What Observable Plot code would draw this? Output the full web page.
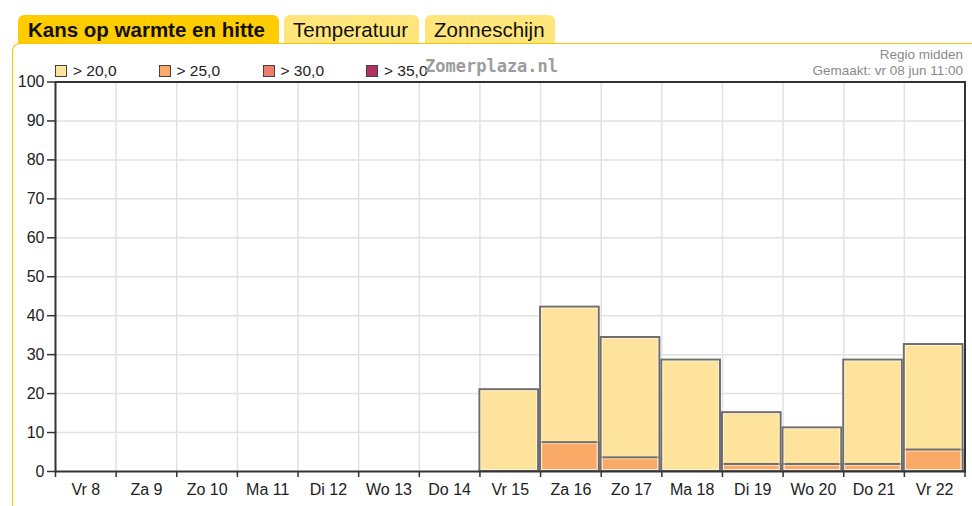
<!DOCTYPE html>
<html>
<head>
<meta charset="utf-8">
<script src="https://cdn.jsdelivr.net/npm/d3@7"></script>
<script src="https://cdn.jsdelivr.net/npm/@observablehq/plot@0.6"></script>
<style>
  html, body { margin:0; padding:0; background:#fff; }
  body { font-family: "Liberation Sans", Arial, sans-serif; }
  #wrap { position:relative; width:972px; height:506px; overflow:hidden; }
  .tab { position:absolute; top:15px; height:28px; border-radius:6px 6px 0 0; font-size:20.5px; line-height:29px; color:#111; box-sizing:border-box; padding-left:9px; }
  #panel { position:absolute; left:12px; top:43px; width:1000px; height:520px; border-left:1.5px solid #f6c400; border-top:1.5px solid #f6c400; border-top-left-radius:8px; box-sizing:border-box; pointer-events:none; }
  #chart { position:absolute; left:0; top:0; }
  .leg { position:absolute; top:63px; font-size:15.5px; color:#222; white-space:nowrap; line-height:16px; }
  .sw { display:inline-block; width:10px; height:10px; border:1px solid #444; vertical-align:-1px; margin-right:6px; }
  #wm { position:absolute; left:425px; top:56px; font-family:"DejaVu Sans Mono", monospace; font-weight:bold; font-size:17px; color:#9c9c9c; letter-spacing:0px; }
  #reg { position:absolute; right:9px; top:47px; text-align:right; font-size:13.5px; color:#8a8a8a; line-height:16px; }
</style>
</head>
<body>
<div id="wrap">
  <div id="chart"></div>
  <div id="panel"></div>
  <div class="tab" id="t1" style="left:18px;width:261px;background:#ffcc00;font-weight:bold;font-size:20.5px;padding-left:10px;"></div>
  <div class="tab" id="t2" style="left:284px;width:135px;background:#ffe57a;"></div>
  <div class="tab" id="t3" style="left:425px;width:130px;background:#ffe57a;"></div>
  <div id="legend"></div>
  <div id="wm">Zomerplaza.nl</div>
  <div id="reg"></div>
</div>
<script>
// ---- data ----
const tabs = ["Kans op warmte en hitte", "Temperatuur", "Zonneschijn"];
const days = ["Vr 8","Za 9","Zo 10","Ma 11","Di 12","Wo 13","Do 14","Vr 15","Za 16","Zo 17","Ma 18","Di 19","Wo 20","Do 21","Vr 22"];
const thresholds = ["> 20,0", "> 25,0", "> 30,0", "> 35,0"];
const colors = ["#fde39c", "#f9aa66", "#ee7b6b", "#b2325f"];
const over20 = [0,0,0,0,0,0,0,21.0,42.2,34.4,28.6,15.1,11.2,28.6,32.6];
const over25 = [0,0,0,0,0,0,0,0,7.4,3.5,0,1.8,1.8,1.8,5.5];
const over30 = [0,0,0,0,0,0,0,0,0,0,0,0,0,0,0];
const over35 = [0,0,0,0,0,0,0,0,0,0,0,0,0,0,0];
const yTicks = [0,10,20,30,40,50,60,70,80,90,100];
const regionText = ["Regio midden", "Gemaakt: vr 08 jun 11:00"];

// ---- build ----
document.getElementById("t1").textContent = tabs[0];
document.getElementById("t2").textContent = tabs[1];
document.getElementById("t3").textContent = tabs[2];
document.getElementById("reg").innerHTML = regionText.join("<br>");

const legLeft = [55, 158.5, 262.5, 366];
const legend = document.getElementById("legend");
thresholds.forEach((t, k) => {
  const d = document.createElement("div");
  d.className = "leg";
  d.style.left = legLeft[k] + "px";
  d.innerHTML = `<span class="sw" style="background:${colors[k]}"></span>${t}`;
  legend.appendChild(d);
});

const series = [over20, over25, over30, over35];
const rows = series.flatMap((vals, s) => vals.map((v, i) => ({i, v, label: thresholds[s]}))).filter(d => d.v > 0);

const chart = Plot.plot({
  width: 972,
  height: 506,
  marginLeft: 55,
  marginRight: 7.5,
  marginTop: 81.5,
  marginBottom: 35,
  x: {domain: [0, days.length], label: null},
  y: {domain: [0, 100], label: null},
  color: {domain: thresholds, range: colors},
  style: {background: "transparent", fontFamily: "'Liberation Sans', Arial, sans-serif", fontSize: "16px", color: "#222", overflow: "visible"},
  marks: [
    Plot.gridX(d3.range(1, days.length), {stroke: "#e2e2e2", strokeOpacity: 1, strokeWidth: 1.5}),
    Plot.gridY(yTicks.slice(1, -1), {stroke: "#e2e2e2", strokeOpacity: 1, strokeWidth: 1.5}),
    Plot.rect(rows, {x1: "i", x2: d => d.i + 1, y1: 0, y2: "v", fill: "label", stroke: "#6e6e6e", strokeWidth: 2, insetRight: 2}),
    Plot.rect(rows, {x1: "i", x2: d => d.i + 1, y1: 0, y2: "v", fill: "none", stroke: "#ffffff", strokeOpacity: 0.55, strokeWidth: 1, insetLeft: 1.5, insetRight: 3.5, insetTop: 1.5, insetBottom: 1.5}),
    Plot.axisY({ticks: yTicks, tickSize: 8, tickPadding: 3, fontSize: 16, stroke: "#333", strokeWidth: 1.5, label: null}),
    Plot.axisX({ticks: d3.range(0, days.length + 1), tickSize: 6, tickFormat: () => "", stroke: "#333", strokeWidth: 1.5, label: null}),
    Plot.axisX({ticks: d3.range(days.length).map(i => i + 0.5), tickSize: 0, tickPadding: 12, fontSize: 16, tickFormat: d => days[Math.floor(d)], label: null}),
    Plot.frame({stroke: "#333", strokeWidth: 2})
  ]
});
document.getElementById("chart").appendChild(chart);
</script>
</body>
</html>
